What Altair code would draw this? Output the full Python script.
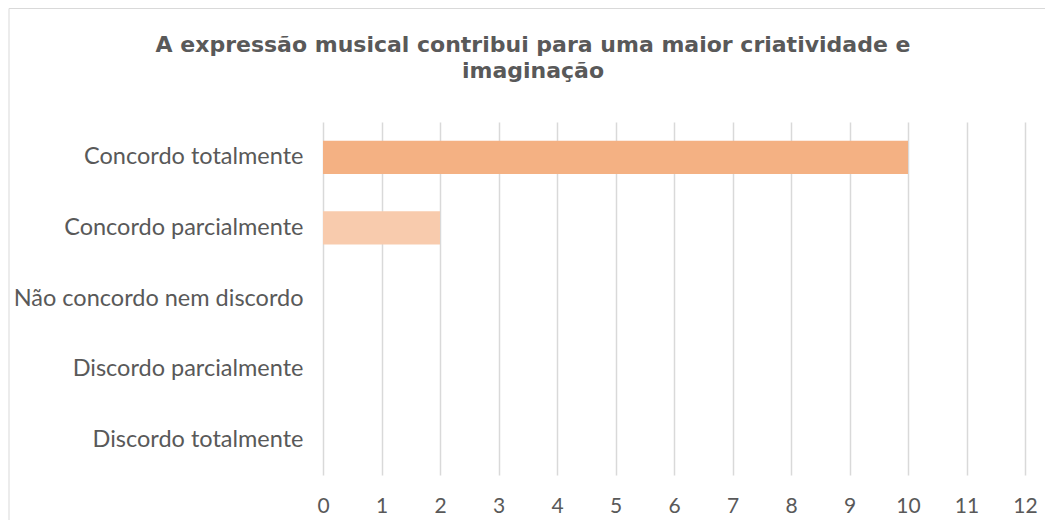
import altair as alt
import pandas as pd

categories = [
    "Concordo totalmente",
    "Concordo parcialmente",
    "Não concordo nem discordo",
    "Discordo parcialmente",
    "Discordo totalmente",
]
values = [10, 2, 0, 0, 0]
bar_colors = ["#F4B183", "#F8CBAD", "#FBE5D6", "#FBE5D6", "#FBE5D6"]
x_ticks = list(range(0, 13))
title_lines = ["A expressão musical contribui para uma maior criatividade e", "imaginação"]

df = pd.DataFrame({"cat": categories, "value": values})
one = pd.DataFrame({"a": [0]})

TXT = "#595959"

bars = alt.Chart(df).mark_bar().encode(
    y=alt.Y(
        "cat:N",
        sort=categories,
        scale=alt.Scale(paddingInner=0.53, paddingOuter=0.265),
        axis=alt.Axis(
            title=None, ticks=False, domain=False, grid=False,
            labelPadding=20, labelFont="Lato", labelFontSize=23.5,
            labelColor=TXT, labelLimit=400,
        ),
    ),
    x=alt.X(
        "value:Q",
        scale=alt.Scale(domain=[0, 12], nice=False),
        axis=alt.Axis(
            values=x_ticks, title=None, ticks=False, domain=False,
            grid=True, gridColor="#d9d9d9", gridWidth=1.5,
            labelPadding=20, labelFont="Lato", labelFontSize=21,
            labelColor=TXT, labelFlush=False,
        ),
    ),
    color=alt.Color("cat:N", scale=alt.Scale(domain=categories, range=bar_colors), legend=None),
)

frame = alt.Chart(one).mark_rect(fillOpacity=0, stroke="#d9d9d9", strokeWidth=1).encode(
    x=alt.value(-314), x2=alt.value(740), y=alt.value(-113.5), y2=alt.value(430)
)

t1 = alt.Chart(one).mark_text(
    text=title_lines[0], font="DejaVu Sans", fontSize=22, fontWeight="bold",
    color=TXT, align="center", baseline="alphabetic",
).encode(x=alt.value(210), y=alt.value(-70))

t2 = alt.Chart(one).mark_text(
    text=title_lines[1], font="DejaVu Sans", fontSize=22, fontWeight="bold",
    color=TXT, align="center", baseline="alphabetic",
).encode(x=alt.value(210), y=alt.value(-44))

chart = alt.layer(frame, bars, t1, t2).properties(
    width=702,
    height=353,
    autosize=alt.AutoSizeParams(type="none"),
    padding={"left": 315, "top": 114, "right": 20, "bottom": 45},
).configure_view(stroke=None)

chart.save("out.html", embed_options={"renderer": "svg", "actions": False})
